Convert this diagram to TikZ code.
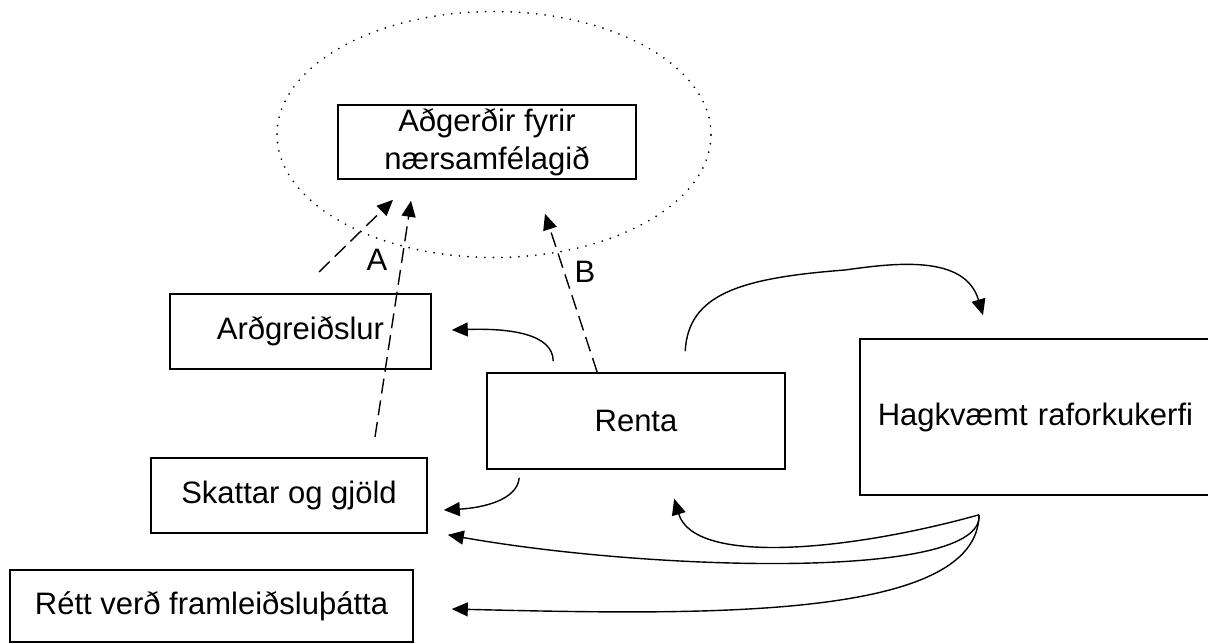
\documentclass[tikz,border=0pt]{standalone}
\usepackage{fontspec}
\setmainfont{Liberation Sans}
\usetikzlibrary{arrows.meta,calc}
\tikzset{
  box/.style={draw=black, line width=1.6pt, rectangle, inner sep=0pt,
    font=\fontsize{31}{38}\selectfont},
  flow/.style={draw=black, line width=1.4pt, -{Triangle[length=16pt,width=14pt]}},
  hint/.style={flow, dash pattern=on 15pt off 7pt},
  tag/.style={inner sep=0pt, font=\fontsize{31}{38}\selectfont},
  ring/.style={draw=black, line width=1.9pt, line cap=round, dash pattern=on 0pt off 8.5pt},
}
\begin{document}
\begin{tikzpicture}[x=1pt,y=-1pt]
  \fill[white] (0,0) rectangle (1208,644);
  \clip (0,0) rectangle (1208,644);

  % dotted region round the community box
  \draw[ring] (494,134.5) ellipse [x radius=217pt, y radius=123pt];

  % boxes
  \node[box, minimum width=298pt, minimum height=74pt, align=center] (goal) at (487,142)
    {Aðgerðir fyrir\\nærsamfélagið};
  \node[box, minimum width=261pt, minimum height=75pt] (div) at (300.5,331.5) {Arðgreiðslur};
  \node[box, minimum width=276pt, minimum height=75pt] (tax) at (289,495.5) {Skattar og gjöld};
  \node[box, minimum width=403pt, minimum height=72pt] (price) at (211.5,606)
    {Rétt verð framleiðsluþátta};
  \node[box, minimum width=298pt, minimum height=96pt] (rent) at (636,421) {Renta};
  \node[box, anchor=west, minimum width=360pt, minimum height=156pt, text width=324pt,
    inner xsep=18pt, align=left] (grid) at (859,417) {Hagkvæmt raforkukerfi};

  % connector end points
  \coordinate (r1) at ($(rent.north west)+(67,-11)$);
  \coordinate (a1) at ($(div.east)+(20,-1.5)$);
  \coordinate (r2) at ($(rent.north west)+(199,-21)$);
  \coordinate (g1) at ($(grid.north west)+(124,-23)$);
  \coordinate (r3) at ($(rent.south west)+(33,8)$);
  \coordinate (t1) at ($(tax.east)+(16,14.5)$);
  \coordinate (src) at ($(grid.south west)+(120,19)$);
  \coordinate (r4) at ($(rent.south west)+(188,29)$);
  \coordinate (t2) at ($(tax.south east)+(20,1)$);
  \coordinate (p1) at ($(price.east)+(38,3)$);
  \coordinate (d1) at (319,272);
  \coordinate (d2) at (375,437);
  \coordinate (b0) at ($(rent.north west)+(111,0)$);

  % solid flows
  \draw[flow] (r1) .. controls +(0,-27) and +(59,-2) .. (a1);
  \draw[flow] (r2) .. controls +(3,-57) and +(-105,8) .. (845,270)
                   .. controls +(50,-7) and +(-18,-61) .. (g1);
  \draw[flow] (r3) .. controls +(-2,23) and +(37,-2) .. (t1);
  \draw[flow] (src) .. controls +(-129,36) and +(20,67) .. (r4);
  \draw[flow] (src) .. controls +(6,66) and +(203,36) .. (t2);
  \draw[flow] (src) .. controls +(-1,106) and +(249,6) .. (p1);

  % dashed contributions
  \draw[hint] (d1) -- ($(goal.south)+(-94,20)$);
  \draw[hint] (d2) -- ($(goal.south)+(-76,21)$);
  \draw[hint] (b0) -- ($(goal.south)+(58,34)$);

  % labels
  \node[tag] (la) at (377,260) {A};
  \node[tag] (lb) at (585,272) {B};
\end{tikzpicture}
\end{document}
